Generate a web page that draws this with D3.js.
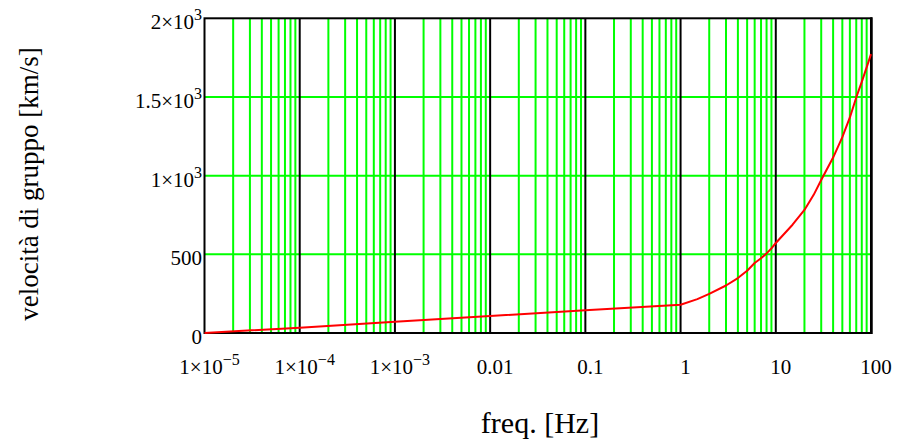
<!DOCTYPE html>
<html>
<head>
<meta charset="utf-8">
<script src="https://cdn.jsdelivr.net/npm/d3@7"></script>
<style>
  html, body { margin: 0; padding: 0; background: #fff; }
  svg { display: block; }
  text { font-family: "Liberation Serif", "DejaVu Serif", serif; fill: #000; }
</style>
</head>
<body>
<svg id="chart" width="897" height="441"></svg>
<script>
// ---- data ----
const freq = [1e-5, 1e-4, 1e-3, 0.01, 0.1, 1, 1.5, 2, 3, 4, 5, 6, 7, 8, 9, 10, 15, 20, 25, 30, 40, 50, 60, 70, 80, 90, 100];
const vel  = [0, 34, 72, 108, 144, 180, 215, 249, 302, 349, 396, 445, 475, 506, 538, 572, 688, 782, 878, 972, 1115, 1245, 1370, 1497, 1596, 1688, 1772];

const xTickValues = [1e-5, 1e-4, 1e-3, 0.01, 0.1, 1, 10, 100];
const xTickBase   = ["1×10", "1×10", "1×10", "0.01", "0.1", "1", "10", "100"];
const xTickExp    = ["−5", "−4", "−3", "", "", "", "", ""];

const yTickValues = [0, 500, 1000, 1500, 2000];
const yTickBase   = ["0", "500", "1×10", "1.5×10", "2×10"];
const yTickExp    = ["", "", "3", "3", "3"];

const xTitle = "freq. [Hz]";
const yTitle = "velocità di gruppo [km/s]";

// ---- layout ----
const pLeft = 204.5, pRight = 871, pTop = 18.3, pBottom = 333;
const svg = d3.select("#chart");

const x = d3.scaleLog().domain([1e-5, 100]).range([pLeft, pRight]);
const y = d3.scaleLinear().domain([0, 2000]).range([pBottom, pTop]);

// minor vertical grid (2..9 in each decade)
const minor = [];
for (let e = -5; e <= 1; e++) {
  for (let k = 2; k <= 9; k++) minor.push(k * Math.pow(10, e));
}
const decades = [1e-4, 1e-3, 0.01, 0.1, 1, 10];

const grid = svg.append("g");
grid.selectAll("line.minor").data(minor).enter().append("line")
  .attr("x1", d => x(d)).attr("x2", d => x(d))
  .attr("y1", pTop).attr("y2", pBottom)
  .attr("stroke", "#00ff00").attr("stroke-width", 2);

grid.selectAll("line.h").data(yTickValues.filter(v => v > 0 && v < 2000)).enter().append("line")
  .attr("x1", pLeft).attr("x2", pRight)
  .attr("y1", d => y(d)).attr("y2", d => y(d))
  .attr("stroke", "#00ff00").attr("stroke-width", 2);

grid.selectAll("line.dec").data(decades).enter().append("line")
  .attr("x1", d => x(d)).attr("x2", d => x(d))
  .attr("y1", pTop).attr("y2", pBottom)
  .attr("stroke", "#000").attr("stroke-width", 2);

// frame
svg.append("rect")
  .attr("x", pLeft).attr("y", pTop)
  .attr("width", pRight - pLeft).attr("height", pBottom - pTop)
  .attr("fill", "none").attr("stroke", "#000").attr("stroke-width", 2);
svg.append("line")
  .attr("x1", pRight + 0.5).attr("x2", pRight + 0.5)
  .attr("y1", pTop - 1).attr("y2", pBottom + 1)
  .attr("stroke", "#000").attr("stroke-width", 2.5);

// curve
const pts = freq.map((f, i) => [f, vel[i]]);
svg.append("path")
  .datum(pts)
  .attr("fill", "none")
  .attr("stroke", "#ff0000")
  .attr("stroke-width", 2)
  .attr("stroke-linejoin", "round")
  .attr("d", d3.line().x(d => x(d[0])).y(d => y(d[1])));

// x tick labels
const xl = svg.append("g");
xTickValues.forEach((v, i) => {
  const t = xl.append("text")
    .attr("x", x(v) + 5).attr("y", 374)
    .attr("text-anchor", "middle")
    .attr("font-size", 21);
  t.append("tspan").text(xTickBase[i]);
  if (xTickExp[i]) {
    t.append("tspan").attr("dy", -9).attr("font-size", 16).text(xTickExp[i]);
  }
});

// y tick labels
const yl = svg.append("g");
yTickValues.forEach((v, i) => {
  const t = yl.append("text")
    .attr("x", 202).attr("y", y(v) + 11)
    .attr("text-anchor", "end")
    .attr("font-size", 21);
  t.append("tspan").text(yTickBase[i]);
  if (yTickExp[i]) {
    t.append("tspan").attr("dy", -9).attr("font-size", 16).text(yTickExp[i]);
  }
});

// axis titles
svg.append("text")
  .attr("x", 540).attr("y", 433)
  .attr("text-anchor", "middle")
  .attr("font-size", 30)
  .text(xTitle);

svg.append("text")
  .attr("transform", "translate(38,184) rotate(-90)")
  .attr("text-anchor", "middle")
  .attr("font-size", 27)
  .text(yTitle);
</script>
</body>
</html>
